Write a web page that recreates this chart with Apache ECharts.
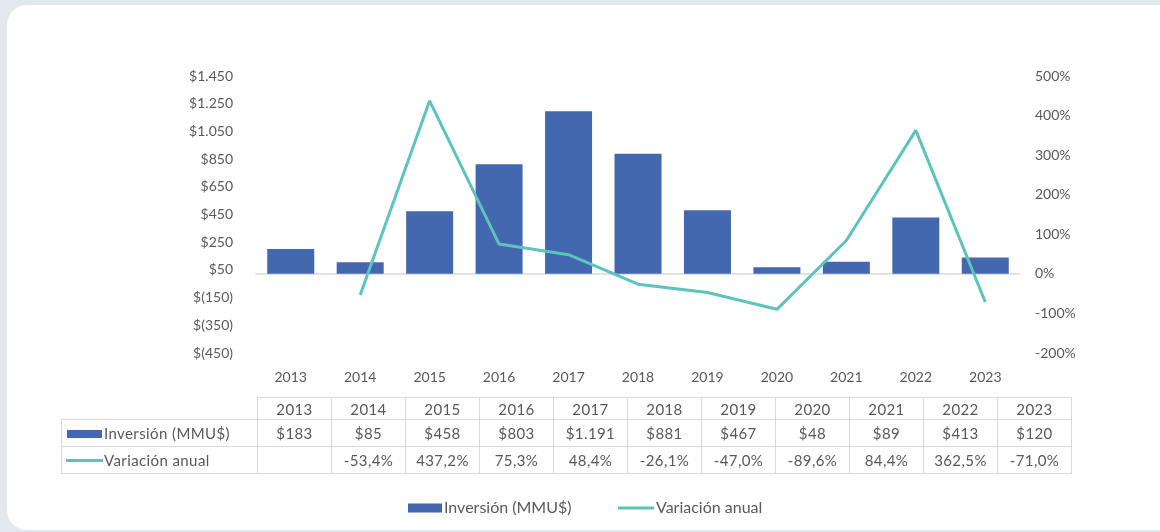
<!DOCTYPE html>
<html>
<head>
<meta charset="utf-8">
<script src="https://cdn.jsdelivr.net/npm/echarts@6/dist/echarts.min.js"></script>
<style>
  html, body { margin: 0; padding: 0; background: #e3e8ef; width: 1160px; height: 532px; overflow: hidden; }
  .card { position: absolute; left: 7px; top: 5px; width: 1180px; height: 525px; background: #fff; border-radius: 20px; }
  #main { position: absolute; left: 0; top: 0; width: 1160px; height: 532px; }
  .tabla { position: absolute; left: 61px; top: 397px; border-collapse: collapse; font-family: Lato, sans-serif; font-size: 15px; color: #595959; letter-spacing: 0.4px; }
  .tabla td { border: 1px solid #d9d9d9; text-align: center; padding: 0; width: 73px; }
  .tabla td.lbl { width: 195px; text-align: left; white-space: nowrap; }
  .tabla td.vacio { border: none; border-right: 1px solid #d9d9d9; }
  .tabla tr.h td { height: 21px; }
  .tabla tr.r td { height: 26px; }
  .sw-bar { display: inline-block; width: 35px; height: 8px; background: #4468b0; margin: 0 2px 0 5px; vertical-align: 1px; }
  .sw-line { display: inline-block; width: 37px; height: 3px; background: #5cc3bd; margin: 0 1px 0 4px; vertical-align: 4px; }
</style>
</head>
<body>
<div class="card"></div>
<div id="main"></div>
<table class="tabla" id="tabla"></table>
<script>
// datos
var anios = ['2013', '2014', '2015', '2016', '2017', '2018', '2019', '2020', '2021', '2022', '2023'];
var inversion = [183, 85, 458, 803, 1191, 881, 467, 48, 89, 413, 120];
var variacion = [null, -53.4, 437.2, 75.3, 48.4, -26.1, -47.0, -89.6, 84.4, 362.5, -71.0];
// etiquetas eje izquierdo (de arriba hacia abajo, como en el original)
var ticksIzq = ['$1.450', '$1.250', '$1.050', '$850', '$650', '$450', '$250', '$50', '$(150)', '$(350)', '$(450)'];
var inversionTxt = ['$183', '$85', '$458', '$803', '$1.191', '$881', '$467', '$48', '$89', '$413', '$120'];
var variacionTxt = ['', '-53,4%', '437,2%', '75,3%', '48,4%', '-26,1%', '-47,0%', '-89,6%', '84,4%', '362,5%', '-71,0%'];

var azul = '#4468b0';
var verde = '#5cc3bd';
var gris = '#595959';

var myChart = echarts.init(document.getElementById('main'));

var option = {
    backgroundColor: 'transparent',
    textStyle: { fontFamily: 'Lato, sans-serif', color: gris },
    grid: { left: 256, right: 140, top: 76, bottom: 179 },
    legend: [{
        left: 408, top: 500, padding: 0,
        itemWidth: 34, itemHeight: 9, itemGap: 0,
        textStyle: { fontSize: 16, color: gris, padding: [0, 0, 0, -3] },
        data: [{ name: 'Inversión (MMU$)', icon: 'rect' }]
    }, {
        left: 618, top: 500, padding: 0,
        itemWidth: 36, itemHeight: 3,
        textStyle: { fontSize: 16, color: gris, padding: [0, 0, 0, -3] },
        data: [{ name: 'Variación anual', icon: 'rect' }]
    }],
    xAxis: [{
        type: 'category',
        data: anios,
        position: 'bottom',
        axisLine: { show: false, onZero: false },
        axisTick: { show: false },
        axisLabel: { fontSize: 14, color: gris, margin: 17 }
    }, {
        // linea del cero con sus marcas
        type: 'category',
        data: anios,
        position: 'bottom',
        axisLine: { onZero: true, onZeroAxisIndex: 0, lineStyle: { color: '#d9d9d9', width: 1.5 } },
        axisTick: { inside: true, length: 4, lineStyle: { color: '#d9d9d9' } },
        axisLabel: { show: false }
    }],
    yAxis: [{
        type: 'value',
        min: -580,
        max: 1450,
        axisLabel: { show: false },
        axisLine: { show: false },
        axisTick: { show: false },
        splitLine: { show: false }
    }, {
        type: 'value',
        position: 'right',
        min: -200,
        max: 500,
        interval: 100,
        axisLabel: { fontSize: 14, color: gris, margin: 15, formatter: '{value}%' },
        axisLine: { show: false },
        axisTick: { show: false },
        splitLine: { show: false }
    }, {
        // solo etiquetas del eje izquierdo
        type: 'value',
        position: 'left',
        min: 0,
        max: 10,
        interval: 1,
        axisLabel: {
            fontSize: 14, color: gris, margin: 23,
            formatter: function (v) { return ticksIzq[10 - v]; }
        },
        axisLine: { show: false },
        axisTick: { show: false },
        splitLine: { show: false }
    }],
    series: [{
        name: 'Inversión (MMU$)',
        type: 'bar',
        yAxisIndex: 0,
        barWidth: 47,
        itemStyle: { color: azul },
        data: inversion
    }, {
        name: 'Variación anual',
        type: 'line',
        yAxisIndex: 1,
        symbol: 'none',
        lineStyle: { color: verde, width: 3 },
        itemStyle: { color: verde },
        data: variacion
    }]
};

myChart.setOption(option);

// tabla de datos bajo el grafico
var html = '<tr class="h"><td class="lbl vacio"></td>';
anios.forEach(function (a) { html += '<td>' + a + '</td>'; });
html += '</tr><tr class="r"><td class="lbl"><span class="sw-bar"></span>Inversión (MMU$)</td>';
inversionTxt.forEach(function (t) { html += '<td>' + t + '</td>'; });
html += '</tr><tr class="r"><td class="lbl"><span class="sw-line"></span>Variación anual</td>';
variacionTxt.forEach(function (t) { html += '<td>' + t + '</td>'; });
html += '</tr>';
document.getElementById('tabla').innerHTML = html;
</script>
</body>
</html>
